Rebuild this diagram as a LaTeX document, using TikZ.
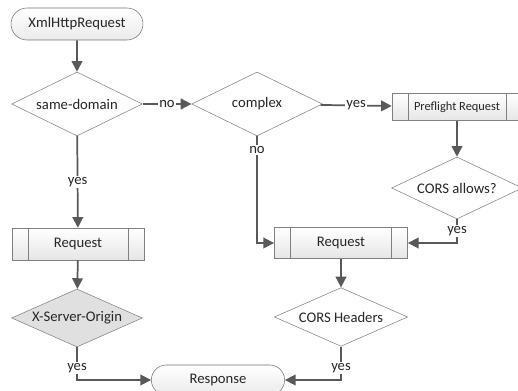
\documentclass[tikz,border=0pt]{standalone}
\usepackage{fontspec}
\setmainfont{Carlito}
\usetikzlibrary{arrows.meta,shapes.geometric,shapes.misc}

\begin{document}
\begin{tikzpicture}
  [x=0.75pt,y=-0.75pt,
   every node/.style={font=\fontsize{11}{13}\selectfont,text=black!85},
   term/.style={rounded rectangle,draw=black!55,top color=white,bottom color=black!8,
                inner sep=0pt,minimum width=99pt,minimum height=24pt},
   proc/.style={rectangle,draw=black!50,top color=white,bottom color=black!10,
                inner sep=0pt,minimum width=99pt,minimum height=24pt,
                path picture={
                  \draw[black!50] ([xshift=12pt]path picture bounding box.north west)
                    -- ([xshift=12pt]path picture bounding box.south west);
                  \draw[black!50] ([xshift=-12pt]path picture bounding box.north east)
                    -- ([xshift=-12pt]path picture bounding box.south east);}},
   decision/.style={diamond,aspect=2,draw=black!50,fill=white,inner sep=0pt,
                    minimum width=98pt,minimum height=48pt},
   flow/.style={draw=black!65,line width=1.3pt,-{Triangle[length=8pt,width=8pt]}},
   lbl/.style={fill=white,inner sep=1pt}]

  \useasboundingbox (0,0) rectangle (518,391);

  % left column
  \node [term] (xhr) at (77,24) {XmlHttpRequest};
  \node [decision] (same) at (77,104) {same-domain};
  \node [proc] (req1) at (78,244) {Request};
  \node [decision,fill=black!12,minimum height=43.5pt] (origin) at (77,318) {X-Server-Origin};

  % right part
  \node [decision] (complex) at (257,104) {complex};
  \node [proc,minimum width=97.5pt,minimum height=20pt,
         font=\fontsize{9.3}{11}\selectfont] (pre) at (457,107) {Preflight Request};
  \node [decision,minimum height=46.5pt] (allows) at (457,188) {CORS allows?};
  \node [proc,minimum width=100pt,minimum height=23pt] (req2) at (341,243) {Request};
  \node [decision,minimum width=100pt,minimum height=44pt] (headers) at (341,317) {CORS Headers};

  \node [term,minimum width=100pt,minimum height=22.5pt] (resp) at (218,380) {Response};

  \coordinate (nb) at (257,243);
  \coordinate (ab) at (457,243);
  \coordinate (ob) at (77,380);
  \coordinate (hb) at (341,380);

  \draw [flow] (xhr) -- (same);
  \draw [flow] (same) -- node[lbl] {no} (complex);
  \draw [flow] (same) -- node[lbl] {yes} (req1);
  \draw [flow] (complex) -- node[lbl] {yes} (pre);
  \draw [flow] (complex.south) -- node[lbl,pos=.13] {no} (nb) -- (req2.west);
  \draw [flow] (pre) -- (allows);
  \draw [flow] (allows.south) -- node[lbl] {yes} (ab) -- (req2.east);
  \draw [flow] (req1) -- (origin);
  \draw [flow] (req2) -- (headers);
  \draw [flow] (origin.south) -- node[lbl,pos=.64] {yes} (ob) -- (resp.west);
  \draw [flow] (headers.south) -- node[lbl,pos=.64] {yes} (hb) -- (resp.east);
\end{tikzpicture}
\end{document}
